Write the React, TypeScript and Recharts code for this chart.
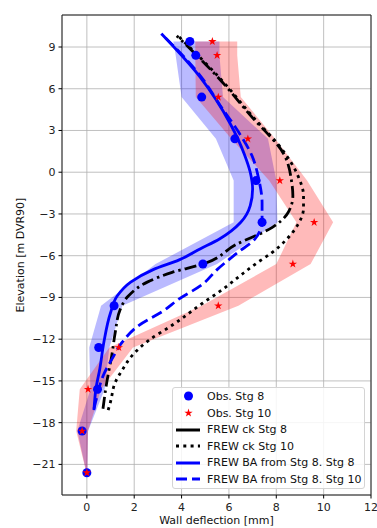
import React from 'react';
import { ComposedChart, Line, Area, Scatter, XAxis, YAxis, CartesianGrid, ReferenceArea, Symbols } from 'recharts';

// observed elevations [m DVR90] and inclinometer deflections [mm]
const obsElev = [9.4, 8.4, 5.4, 2.4, -0.6, -3.6, -6.6, -9.6, -12.6, -15.6, -18.6, -21.6];
const obsStg8 = [4.35, 4.6, 4.85, 6.25, 7.15, 7.4, 4.9, 1.15, 0.5, 0.45, -0.2, 0.0];
const obsStg10 = [5.3, 5.5, 5.55, 6.8, 8.15, 9.6, 8.7, 5.55, 1.35, 0.05, -0.2, 0.0];

// uncertainty bands at the observed elevations
const bandStg8Lo = [3.65, 3.75, 4.0, 5.45, 6.2, 6.2, 2.9, 0.6, 0.1, 0.15, -0.4, -0.02];
const bandStg8Hi = [5.6, 5.6, 5.75, 7.65, 8.0, 8.05, 5.5, 1.5, 0.95, 0.75, 0.05, 0.02];
const bandStg10Lo = [4.58, 4.58, 4.6, 6.1, 7.7, 8.85, 8.0, 4.85, 0.95, -0.3, -0.45, -0.02];
const bandStg10Hi = [6.35, 6.35, 6.5, 7.95, 9.3, 10.4, 9.45, 6.4, 1.95, 0.6, 0.05, 0.02];

// FREW ck
const ckStg8Elev = [9.8, 6.7, 4.1, 1.2, -0.7, -1.7, -2.9, -4.0, -5.2, -6.6, -7.2, -7.9, -8.9, -9.9, -11.5, -13.2, -15.0, -17.0];
const ckStg8 = [3.8, 5.6, 6.9, 8.35, 8.65, 8.7, 8.5, 7.8, 6.3, 4.9, 3.6, 2.55, 1.75, 1.4, 1.2, 1.05, 0.85, 0.68];
const ckStg10Elev = [9.8, 6.7, 4.1, 1.4, -0.2, -1.7, -2.6, -3.8, -4.8, -5.8, -6.5, -7.4, -8.4, -9.4, -11.0, -12.1, -13.2, -14.2, -15.1, -16.5, -17.1];
const ckStg10 = [3.85, 5.65, 6.95, 8.35, 8.9, 9.15, 9.15, 8.9, 8.45, 7.8, 7.2, 6.5, 5.75, 4.9, 3.6, 2.6, 1.9, 1.5, 1.2, 1.0, 0.9];

// FREW BA from Stg 8
const baStg8Elev = [9.95, 6.8, 3.5, 1.3, 0, -1.2, -2.4, -3.6, -4.8, -5.5, -6.3, -7.0, -7.9, -8.9, -10.1, -12.2, -14.1, -15.6, -17.1];
const baStg8 = [3.15, 4.8, 6.05, 6.65, 6.9, 7.0, 6.9, 6.5, 5.6, 4.8, 3.9, 2.8, 1.85, 1.28, 1.0, 0.72, 0.55, 0.38, 0.3];
const baStg10Elev = [9.95, 6.8, 4.8, 2.9, 1.2, -0.5, -2.2, -3.5, -4.8, -5.8, -7.0, -8.1, -9.1, -10.0, -11.0, -12.2, -13.4, -14.5, -16.3, -17.0];
const baStg10 = [3.15, 4.85, 5.63, 6.4, 6.97, 7.26, 7.4, 7.4, 7.1, 6.35, 5.5, 4.85, 3.9, 3.2, 2.2, 1.5, 1.07, 0.72, 0.4, 0.3];

const xTicks = [0, 2, 4, 6, 8, 10, 12];
const yTicks = [-21, -18, -15, -12, -9, -6, -3, 0, 3, 6, 9];
const X_DOMAIN: [number, number] = [-1.05, 12];
const Y_DOMAIN: [number, number] = [-23.2, 11.3];

const profile = (ys: number[], xs: number[]) =>
  ys.map((y, i) => ({ y, x: xs[i] })).sort((a, b) => a.y - b.y);
const band = (lo: number[], hi: number[]) =>
  obsElev.map((y, i) => ({ y, lo: lo[i], hi: hi[i] }));

const FONT = 'DejaVu Sans, sans-serif';
const tickStyle = { fontSize: 11, fill: '#222', fontFamily: FONT };
const minus = (v: number) => String(v).replace('-', '\u2212');

const BlueDot = (p: any) => <circle cx={p.cx} cy={p.cy} r={4.5} fill="#0000ff" />;
const RedStar = (p: any) => <Symbols cx={p.cx} cy={p.cy} type="star" size={22} fill="#ff0000" />;

const legendItems = [
  { label: 'Obs. Stg 8', kind: 'dot' },
  { label: 'Obs. Stg 10', kind: 'star' },
  { label: 'FREW ck Stg 8', kind: 'line', color: '#000', dash: undefined },
  { label: 'FREW ck Stg 10', kind: 'line', color: '#000', dash: '3 4.3' },
  { label: 'FREW BA from Stg 8. Stg 8', kind: 'line', color: '#0000ff', dash: undefined },
  { label: 'FREW BA from Stg 8. Stg 10', kind: 'line', color: '#0000ff', dash: '11 5' },
];

const LegendBox = () => (
  <div
    style={{
      position: 'absolute', left: 172, top: 387, width: 193, height: 102,
      boxSizing: 'border-box', border: '1px solid #d4d4d4', borderRadius: 3,
      background: 'rgba(255,255,255,0.85)', fontFamily: FONT, fontSize: 11, color: '#111',
    }}
  >
    {legendItems.map((it, i) => (
      <div key={it.label} style={{ position: 'absolute', left: 0, top: 0.2 + i * 16.6, height: 16.6, display: 'flex', alignItems: 'center' }}>
        <svg width={32} height={16} style={{ display: 'block' }}>
          {it.kind === 'dot' && <circle cx={15.5} cy={8} r={4.5} fill="#0000ff" />}
          {it.kind === 'star' && <Symbols cx={15.5} cy={8} type="star" size={22} fill="#ff0000" />}
          {it.kind === 'line' && (
            <line x1={3} x2={27} y1={8} y2={8} stroke={it.color} strokeWidth={3} strokeDasharray={it.dash} />
          )}
        </svg>
        <span style={{ marginLeft: 2, whiteSpace: 'nowrap' }}>{it.label}</span>
      </div>
    ))}
  </div>
);

export default function App() {
  return (
    <div style={{ position: 'absolute', left: 0, top: 0, width: 377, height: 528, background: '#fff' }}>
      <ComposedChart width={377} height={528} layout="vertical" margin={{ top: 15, right: 6, bottom: 0, left: 0 }}>
        <CartesianGrid stroke="#b0b0b0" strokeWidth={0.8} />
        <XAxis
          type="number" dataKey="x" domain={X_DOMAIN} ticks={xTicks} allowDataOverflow
          height={33} tickSize={3.5} tickMargin={5} axisLine={false}
          tickLine={{ stroke: '#000' }} tick={tickStyle} tickFormatter={minus}
          label={{
            content: (p: any) => (
              <text x={p.viewBox.x + p.viewBox.width / 2} y={524} textAnchor="middle" fontSize={11} fontFamily={FONT} fill="#111">
                Wall deflection [mm]
              </text>
            ),
          }}
        />
        <YAxis
          type="number" dataKey="y" domain={Y_DOMAIN} ticks={yTicks} allowDataOverflow reversed
          width={62} tickSize={3.5} tickMargin={3} axisLine={false}
          tickLine={{ stroke: '#000' }} tick={tickStyle} tickFormatter={minus}
          label={{
            content: (p: any) => (
              <text transform={`translate(23.5 ${p.viewBox.y + p.viewBox.height / 2}) rotate(-90)`} textAnchor="middle" fontSize={11} fontFamily={FONT} fill="#111">
                Elevation [m DVR90]
              </text>
            ),
          }}
        />
        <Area data={band(bandStg8Lo, bandStg8Hi)} dataKey={(d: any) => [d.lo, d.hi]} type="linear" stroke="none" fill="#0000ff" fillOpacity={0.27} isAnimationActive={false} />
        <Area data={band(bandStg10Lo, bandStg10Hi)} dataKey={(d: any) => [d.lo, d.hi]} type="linear" stroke="none" fill="#ff0000" fillOpacity={0.27} isAnimationActive={false} />
        <Line data={profile(ckStg8Elev, ckStg8)} dataKey="x" type="monotone" stroke="#000" strokeWidth={2.8} strokeDasharray="12 4 2.5 4" dot={false} activeDot={false} isAnimationActive={false} />
        <Line data={profile(ckStg10Elev, ckStg10)} dataKey="x" type="monotone" stroke="#000" strokeWidth={2.8} strokeDasharray="3 4.3" dot={false} activeDot={false} isAnimationActive={false} />
        <Line data={profile(baStg8Elev, baStg8)} dataKey="x" type="monotone" stroke="#0000ff" strokeWidth={2.8} dot={false} activeDot={false} isAnimationActive={false} />
        <Line data={profile(baStg10Elev, baStg10)} dataKey="x" type="monotone" stroke="#0000ff" strokeWidth={2.8} strokeDasharray="11 5" dot={false} activeDot={false} isAnimationActive={false} />
        <Scatter data={obsElev.map((y, i) => ({ y, x: obsStg8[i] }))} shape={BlueDot} isAnimationActive={false} />
        <Scatter data={obsElev.map((y, i) => ({ y, x: obsStg10[i] }))} shape={RedStar} isAnimationActive={false} />
        <ReferenceArea x1={X_DOMAIN[0]} x2={X_DOMAIN[1]} y1={Y_DOMAIN[0]} y2={Y_DOMAIN[1]} fill="none" stroke="#222" strokeWidth={1} ifOverflow="visible" />
      </ComposedChart>
      <LegendBox />
    </div>
  );
}
